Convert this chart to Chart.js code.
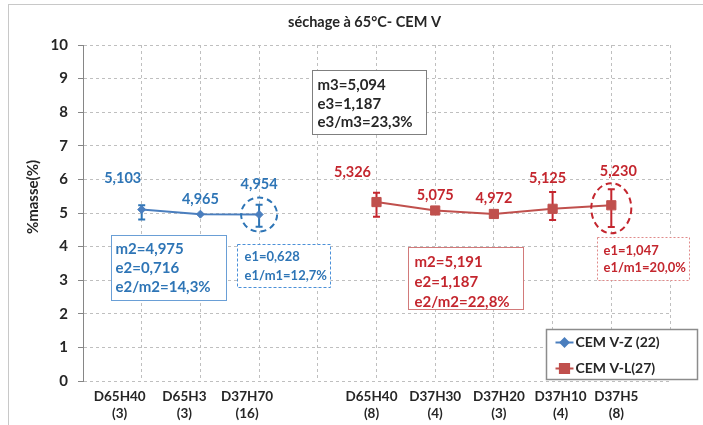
<!DOCTYPE html>
<html lang="fr">
<head>
<meta charset="utf-8">
<script src="https://cdn.jsdelivr.net/npm/chart.js@4.4.1/dist/chart.umd.min.js"></script>
<style>
  html, body { margin: 0; padding: 0; background: #fff; }
  #zone { width: 703px; height: 425px; }
</style>
</head>
<body>
<div id="zone"><canvas id="graphique"></canvas></div>
<script>
// DONNEES
const categories = [
    '', ['D65H40', '(3)'], ['D65H3', '(3)'], ['D37H70', '(16)'], '',
    ['D65H40', '(8)'], ['D37H30', '(4)'], ['D37H20', '(3)'], ['D37H10', '(4)'], ['D37H5', '(8)'], ''
]
const nomsSeries = ['CEM V-Z (22)', 'CEM V-L(27)']
const valeursZ = [null, 5.103, 4.965, 4.954, null, null, null, null, null, null, null]
const valeursL = [null, null, null, null, null, 5.326, 5.075, 4.972, 5.125, 5.230, null]
// barres d'erreur (au-dessus / en dessous)
const erreurHautZ = [0, 0.13, 0, 0.29, 0, 0, 0, 0, 0, 0, 0]
const erreurBasZ = [0, 0.30, 0, 0.36, 0, 0, 0, 0, 0, 0, 0]
const erreurHautL = [0, 0, 0, 0, 0, 0.28, 0, 0, 0.50, 0.48, 0]
const erreurBasL = [0, 0, 0, 0, 0, 0.44, 0, 0, 0.33, 0.65, 0]
const graduationsY = [0, 10, 1]

const titre = 'séchage à 65°C- CEM V'
const titreY = '%masse(%)'
const texteGlobal = ['m3=5,094', 'e3=1,187', 'e3/m3=23,3%']
const texteZ = ['m2=4,975', 'e2=0,716', 'e2/m2=14,3%']
const texteZe1 = ['e1=0,628', 'e1/m1=12,7%']
const texteL = ['m2=5,191', 'e2=1,187', 'e2/m2=22,8%']
const texteLe1 = ['e1=1,047', 'e1/m1=20,0%']

// STYLE
const police = 'Lato, "Open Sans", sans-serif'
const bleu = '#2E75B6'
const bleuLigne = '#4A7EBE'
const rouge = '#C4262E'
const rougeLigne = '#C0504D'
const gris = '#262626'

// decalage des etiquettes de valeur par rapport au point [dx, dy]
const decalagesZ = { 1: [-19, -31], 2: [0, -15], 3: [0, -30] }
const decalagesL = { 5: [-24, -30], 6: [0, -15], 7: [0, -16], 8: [-5, -30], 9: [7, -34] }
// decalage horizontal des libelles de l'axe X (comme sur l'original)
const decalagesX = [0, -22, -16, -12, 0, -5, 0, 5, 8, 5, 0]

const fmt = v => v.toFixed(3).replace('.', ',')

// barres d'erreur sous les marqueurs
const barresErreur = {
    id: 'barresErreur',
    beforeDatasetsDraw(chart) {
        const ctx = chart.ctx
        const x = chart.scales.x, y = chart.scales.y
        const series = [
            [valeursZ, erreurHautZ, erreurBasZ, bleu],
            [valeursL, erreurHautL, erreurBasL, rouge]
        ]
        ctx.save()
        series.forEach(([vals, haut, bas, coul]) => {
            vals.forEach((v, i) => {
                if (v === null || (!haut[i] && !bas[i])) return
                const px = x.getPixelForValue(i)
                const y1 = y.getPixelForValue(v + haut[i])
                const y2 = y.getPixelForValue(v - bas[i])
                ctx.strokeStyle = coul
                ctx.lineWidth = 2
                ctx.beginPath()
                ctx.moveTo(px, y1); ctx.lineTo(px, y2)
                ctx.moveTo(px - 3.5, y1); ctx.lineTo(px + 3.5, y1)
                ctx.moveTo(px - 3.5, y2); ctx.lineTo(px + 3.5, y2)
                ctx.stroke()
            })
        })
        ctx.restore()
    }
}

// encadres, titres, cercles, legende
const habillage = {
    id: 'habillage',
    afterDraw(chart) {
        const ctx = chart.ctx
        const xs = chart.scales.x, ys = chart.scales.y
        const X = i => xs.getPixelForValue(i)
        const Y = v => ys.getPixelForValue(v)
        const area = chart.chartArea

        ctx.save()
        // cadre du graphique
        ctx.strokeStyle = '#c8c8c8'
        ctx.lineWidth = 1
        ctx.strokeRect(8.5, 4.5, 700, 430)

        // titre
        ctx.fillStyle = gris
        ctx.font = 'bold 14.5px ' + police
        ctx.textAlign = 'center'
        ctx.textBaseline = 'middle'
        ctx.fillText(titre, (area.left + area.right) / 2 - 12, 22)

        // titre axe Y
        ctx.save()
        ctx.translate(33, 197)
        ctx.rotate(-Math.PI / 2)
        ctx.font = 'bold 15px ' + police
        ctx.fillText(titreY, 0, 0)
        ctx.restore()

        // libelles de l'axe X, places sur les categories de l'echelle
        ctx.font = 'bold 13.5px ' + police
        categories.forEach((lib, i) => {
            if (!lib) return
            const cx = X(i) + decalagesX[i]
            lib.forEach((t, k) => ctx.fillText(t, cx, area.bottom + 16 + k * 17))
        })

        // etiquettes de valeur
        ctx.font = 'bold 14.5px ' + police
        const etiquettes = (vals, dec, coul) => {
            ctx.fillStyle = coul
            vals.forEach((v, i) => {
                if (v === null) return
                const [dx, dy] = dec[i] || [0, -20]
                ctx.fillText(fmt(v), X(i) + dx, Y(v) + dy)
            })
        }
        etiquettes(valeursZ, decalagesZ, bleu)
        etiquettes(valeursL, decalagesL, rouge)

        // cercles pointilles
        const ellipse = (i, v, rx, ry, dy, coul) => {
            ctx.strokeStyle = coul
            ctx.lineWidth = 2
            ctx.setLineDash([6, 4])
            ctx.beginPath()
            ctx.ellipse(X(i), Y(v) + dy, rx, ry, 0, 0, Math.PI * 2)
            ctx.stroke()
            ctx.setLineDash([])
        }
        ellipse(3, valeursZ[3], 18, 17, 0, bleu)
        ellipse(9, valeursL[9], 20, 25, 3, rouge)

        // encadres
        const boite = (i0, v0, i1, v1, lignes, o) => {
            const x0 = Math.round(X(i0)) + 0.5, y0 = Math.round(Y(v0)) + 0.5
            const x1 = Math.round(X(i1)) + 0.5, y1 = Math.round(Y(v1)) + 0.5
            ctx.fillStyle = '#fff'
            ctx.fillRect(x0, y0, x1 - x0, y1 - y0)
            ctx.strokeStyle = o.bord
            ctx.lineWidth = 1
            ctx.setLineDash(o.tirets || [])
            ctx.strokeRect(x0, y0, x1 - x0, y1 - y0)
            ctx.setLineDash([])
            ctx.fillStyle = o.couleur
            ctx.font = 'bold ' + o.taille + 'px ' + police
            ctx.textAlign = 'left'
            lignes.forEach((t, k) => ctx.fillText(t, x0 + o.marge, y0 + o.premier + k * o.pas))
        }
        boite(3.90, 9.26, 5.85, 7.35, texteGlobal, { bord: '#7f7f7f', couleur: gris, taille: 15, marge: 5, premier: 15, pas: 18.5 })
        boite(0.47, 4.345, 2.43, 2.41, texteZ, { bord: '#6a9fd6', couleur: bleu, taille: 15, marge: 4, premier: 14, pas: 19 })
        boite(2.62, 4.08, 4.21, 2.80, texteZe1, { bord: '#4a90d9', couleur: bleu, taille: 13, marge: 7, premier: 12.7, pas: 18.3, tirets: [3, 2] })
        boite(5.54, 3.98, 7.49, 2.14, texteL, { bord: '#d27a7a', couleur: rouge, taille: 15, marge: 6, premier: 14.4, pas: 20 })
        boite(8.75, 4.29, 10.32, 3.00, texteLe1, { bord: '#e08a8a', couleur: rouge, taille: 13, marge: 6, premier: 13.3, pas: 16.7, tirets: [2, 2] })

        // legende
        const lx0 = Math.round(X(7.89)) + 0.5, ly0 = Math.round(Y(1.55)) + 0.5
        const lx1 = Math.round(X(10.46)) + 0.5, ly1 = Math.round(Y(0.06)) + 0.5
        ctx.fillStyle = '#fff'
        ctx.fillRect(lx0, ly0, lx1 - lx0, ly1 - ly0)
        ctx.strokeStyle = '#8c8c8c'
        ctx.lineWidth = 1.5
        ctx.strokeRect(lx0, ly0, lx1 - lx0, ly1 - ly0)
        const entrees = [[bleuLigne, 'rectRot', 4], [rougeLigne, 'rect', 6.5]]
        entrees.forEach(([coul, forme, r], k) => {
            const ly = ly0 + 13 + k * 26
            ctx.strokeStyle = coul
            ctx.lineWidth = 2
            ctx.beginPath()
            ctx.moveTo(lx0 + 9, ly); ctx.lineTo(lx0 + 27, ly)
            ctx.stroke()
            ctx.fillStyle = coul
            Chart.helpers.drawPoint(ctx, { pointStyle: forme, radius: r, borderWidth: 1, rotation: 0 }, lx0 + 18, ly)
            ctx.fill()
            ctx.fillStyle = gris
            ctx.font = 'bold 14px ' + police
            ctx.textAlign = 'left'
            ctx.fillText(nomsSeries[k], lx0 + 29, ly)
        })
        ctx.restore()
    }
}

// CONFIG
const config = {
    type: 'line',
    data: {
        labels: categories,
        datasets: [{
            label: nomsSeries[0],
            data: valeursZ,
            borderColor: bleuLigne,
            backgroundColor: bleuLigne,
            borderWidth: 2,
            pointStyle: 'rectRot',
            pointRadius: 4,
            pointBorderWidth: 1
        }, {
            label: nomsSeries[1],
            data: valeursL,
            borderColor: rougeLigne,
            backgroundColor: rougeLigne,
            borderWidth: 2,
            pointStyle: 'rect',
            pointRadius: 6.5,
            pointBorderWidth: 1
        }]
    },
    options: {
        responsive: true,
        maintainAspectRatio: false,
        animation: false,
        devicePixelRatio: 1,
        layout: { padding: { left: 0, top: 45, right: 33, bottom: 0 } },
        plugins: {
            legend: { display: false },
            title: { display: false },
            tooltip: { enabled: false }
        },
        scales: {
            x: {
                offset: false,
                grid: { color: '#bfbfbf', drawTicks: false },
                border: { display: false, dash: [3, 3] },
                // libelles dessines par le plugin (decalages propres a chaque categorie)
                ticks: { display: false, autoSkip: false },
                afterFit: scale => { scale.height = 44 }
            },
            y: {
                min: graduationsY[0],
                max: graduationsY[1],
                grid: { color: '#bfbfbf', tickLength: 5, tickColor: '#868686' },
                border: { color: '#868686', width: 1, dash: [3, 3] },
                ticks: {
                    stepSize: graduationsY[2],
                    padding: 10,
                    color: gris,
                    font: { family: police, size: 15, weight: 'bold' }
                },
                afterFit: scale => { scale.width = 83 }
            }
        }
    },
    plugins: [barresErreur, habillage]
}

// RENDU
const graphique = new Chart(document.getElementById('graphique'), config)
</script>
</body>
</html>
